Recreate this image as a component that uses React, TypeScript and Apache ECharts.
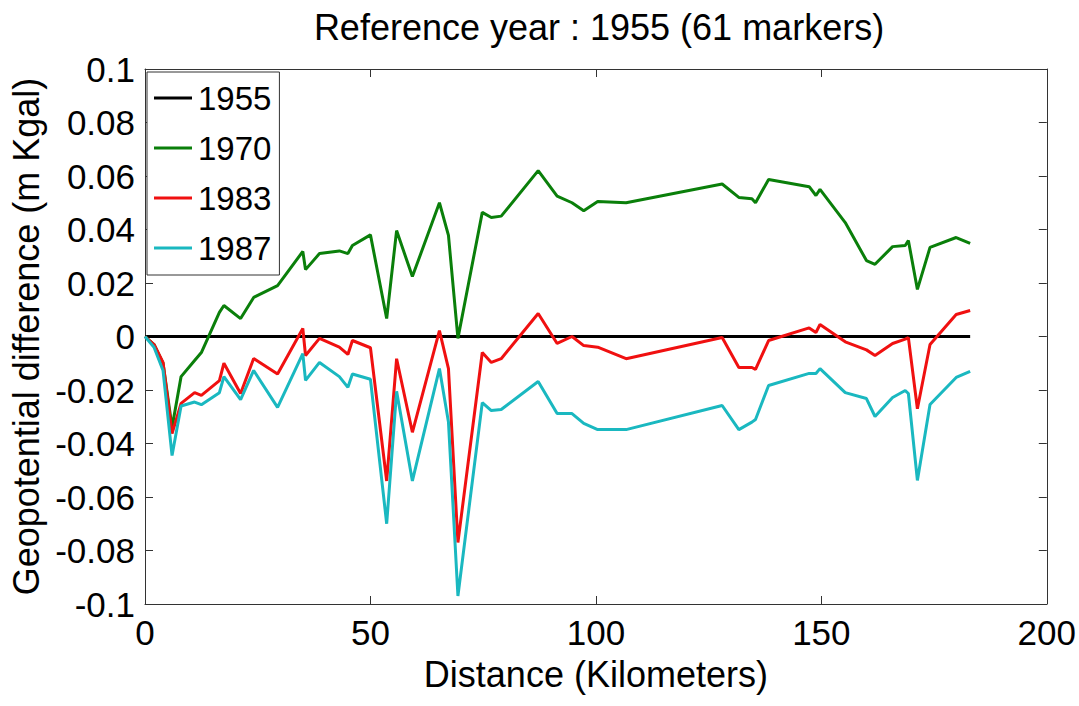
import React, { useEffect, useRef } from "react";
import * as echarts from "echarts";

const distance = [0, 2, 4, 6, 8, 11, 12.5, 16.5, 17.5, 21.2, 24.1, 29.4, 35, 35.6, 38.7, 43.1, 45, 46, 50, 53.6, 55.8, 59.3, 65.3, 67.3, 69.4, 74.8, 76.8, 79, 87.2, 91.4, 94.7, 97.3, 100.4, 106.7, 128, 131.7, 134.6, 135.4, 138.3, 147.3, 148.8, 149.7, 155.3, 160, 161.9, 165.8, 168.6, 169.3, 171.3, 174.1, 179.9, 183];

const y1955 = distance.map(() => 0);
const y1970 = [0, -0.003, -0.01, -0.034, -0.015, -0.009, -0.006, 0.009, 0.0116, 0.0067, 0.0146, 0.019, 0.0318, 0.025, 0.031, 0.032, 0.031, 0.034, 0.038, 0.0067, 0.0396, 0.0224, 0.05, 0.0378, -0.0007, 0.0464, 0.0445, 0.045, 0.062, 0.0525, 0.05, 0.047, 0.0505, 0.05, 0.057, 0.052, 0.0515, 0.05, 0.0587, 0.056, 0.0527, 0.055, 0.0426, 0.0284, 0.027, 0.0336, 0.034, 0.0359, 0.0176, 0.0333, 0.037, 0.0348];
const y1983 = [0, -0.003, -0.0097, -0.0363, -0.025, -0.021, -0.022, -0.0165, -0.01, -0.0213, -0.0082, -0.014, 0.003, -0.0071, -0.0007, -0.004, -0.0067, -0.0015, -0.0042, -0.054, -0.0083, -0.0358, 0.0022, -0.012, -0.077, -0.006, -0.0097, -0.0083, 0.0086, -0.0026, 0, -0.0034, -0.004, -0.0083, -0.0004, -0.0116, -0.0116, -0.0123, -0.0015, 0.0032, 0.0015, 0.0045, -0.002, -0.005, -0.0071, -0.0026, -0.001, -0.0004, -0.027, -0.003, 0.0082, 0.0097];
const y1987 = [0, -0.004, -0.0127, -0.0445, -0.026, -0.0245, -0.0255, -0.021, -0.015, -0.0236, -0.0127, -0.0265, -0.0064, -0.0164, -0.0097, -0.015, -0.019, -0.014, -0.016, -0.07, -0.0205, -0.054, -0.012, -0.032, -0.097, -0.0247, -0.0277, -0.0273, -0.0168, -0.0288, -0.0288, -0.0325, -0.0348, -0.0348, -0.0258, -0.0348, -0.032, -0.031, -0.0183, -0.0138, -0.0138, -0.012, -0.021, -0.0232, -0.0299, -0.0228, -0.0202, -0.0213, -0.0538, -0.0254, -0.0153, -0.013];

const seriesNames = ["1955", "1970", "1983", "1987"];
const seriesValues = [y1955, y1970, y1983, y1987];
const seriesColors = ["#000000", "#0a7f0a", "#f01010", "#1ab8c0"];

const FONT = "Liberation Sans";

export default function App() {
  const ref = useRef<HTMLDivElement>(null);
  useEffect(() => {
    if (!ref.current) return;
    const chart = echarts.init(ref.current, null, { renderer: "svg" });
    const axisLine = { show: true, onZero: false, lineStyle: { color: "#333", width: 1 } };
    const tickStyle = { show: true, inside: true, length: 8, lineStyle: { color: "#333", width: 1 } };
    chart.setOption({
      animation: false,
      backgroundColor: "#fff",
      title: {
        text: "Reference year : 1955 (61 markers)",
        left: 594,
        textAlign: "center",
        top: 4,
        textStyle: { fontFamily: FONT, fontSize: 36, fontWeight: "normal", color: "#000" },
      },
      grid: { left: 145, right: 30, top: 69, bottom: 102, containLabel: false },
      legend: {
        orient: "vertical",
        left: 147,
        top: 72,
        padding: [8, 8, 9, 7],
        itemGap: 14,
        itemWidth: 38,
        itemHeight: 3,
        icon: "rect",
        backgroundColor: "#fff",
        borderColor: "#333",
        borderWidth: 1,
        borderRadius: 0,
        data: seriesNames,
        textStyle: { fontFamily: FONT, fontSize: 33, color: "#000", lineHeight: 36, padding: [0, 0, 0, 1] },
      },
      xAxis: [
        {
          type: "value",
          min: 0,
          max: 200,
          interval: 50,
          position: "bottom",
          name: "Distance (Kilometers)",
          nameLocation: "middle",
          nameGap: 52,
          nameTextStyle: { fontFamily: FONT, fontSize: 36, color: "#000", verticalAlign: "top" },
          axisLine,
          axisTick: tickStyle,
          splitLine: { show: false },
          axisLabel: { fontFamily: FONT, fontSize: 35, color: "#000", margin: 11 },
        },
        {
          type: "value",
          min: 0,
          max: 200,
          interval: 50,
          position: "top",
          axisLine,
          axisTick: tickStyle,
          splitLine: { show: false },
          axisLabel: { show: false },
        },
      ],
      yAxis: [
        {
          type: "value",
          min: -0.1,
          max: 0.1,
          interval: 0.02,
          position: "left",
          name: "Geopotential difference (m Kgal)",
          nameLocation: "middle",
          nameGap: 99,
          nameTextStyle: { fontFamily: FONT, fontSize: 36, color: "#000" },
          axisLine,
          axisTick: tickStyle,
          splitLine: { show: false },
          axisLabel: {
            fontFamily: FONT,
            fontSize: 35,
            color: "#000",
            margin: 10,
            formatter: (v: number) => String(+v.toFixed(2)),
          },
        },
        {
          type: "value",
          min: -0.1,
          max: 0.1,
          interval: 0.02,
          position: "right",
          axisLine,
          axisTick: tickStyle,
          splitLine: { show: false },
          axisLabel: { show: false },
        },
      ],
      series: seriesNames.map((name, i) => ({
        name,
        type: "line",
        xAxisIndex: 0,
        yAxisIndex: 0,
        data: distance.map((d, j) => [d, seriesValues[i][j]]),
        symbol: "none",
        showSymbol: false,
        lineStyle: { color: seriesColors[i], width: 3 },
        itemStyle: { color: seriesColors[i] },
        z: 2 + i,
      })),
    });
    return () => chart.dispose();
  }, []);
  return (
    <div
      ref={ref}
      style={{ position: "fixed", left: 0, top: 0, width: 1079, height: 706, background: "#fff" }}
    />
  );
}
